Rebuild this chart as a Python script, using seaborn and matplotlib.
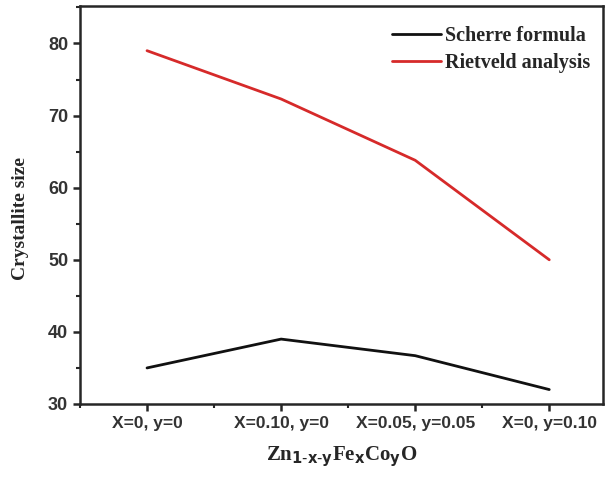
import matplotlib
matplotlib.use('Agg')
import pandas as pd
import seaborn as sns
import matplotlib.pyplot as plt
from matplotlib.ticker import MultipleLocator

categories = ['X=0, y=0', 'X=0.10, y=0', 'X=0.05, y=0.05', 'X=0, y=0.10']
scherre = [35.0, 39.0, 36.7, 32.0]
rietveld = [79.0, 72.3, 63.8, 50.0]

df = pd.DataFrame({
    'pos': list(range(len(categories))) * 2,
    'size': scherre + rietveld,
    'method': ['Scherre formula'] * 4 + ['Rietveld analysis'] * 4,
})

sns.set_style('ticks')
fig = plt.figure(figsize=(6.13, 4.83), dpi=100)
ax = fig.add_axes([0.1305, 0.1636, 0.853, 0.824])

sns.lineplot(data=df, x='pos', y='size', hue='method',
             palette={'Scherre formula': '#111111', 'Rietveld analysis': '#d62a2a'},
             linewidth=2.0, ax=ax)

ax.set_xlim(-0.5, 3.4)
ax.set_ylim(30, 85.2)
ax.set_xticks(range(len(categories)))
ax.set_xticklabels(categories, family='Liberation Sans', fontweight='bold', fontsize=12.5)
ax.xaxis.set_minor_locator(MultipleLocator(0.5))
ax.set_yticks([30, 40, 50, 60, 70, 80])
ax.yaxis.set_minor_locator(MultipleLocator(5))
for lab in ax.get_yticklabels():
    lab.set_family('Liberation Sans')
    lab.set_fontweight('bold')
    lab.set_fontsize(13)
    lab.set_color('#333333')
for lab in ax.get_xticklabels():
    lab.set_color('#333333')

ax.tick_params(which='major', direction='out', length=5, width=1.8)
ax.tick_params(which='minor', direction='out', length=3, width=1.5)
for s in ax.spines.values():
    s.set_linewidth(1.8)
    s.set_visible(True)

ax.set_ylabel('Crystallite size', family='Liberation Serif', fontweight='bold', fontsize=14)
ax.yaxis.set_label_coords(-0.098, 0.467)
ax.set_xlabel(r'Zn$_{\mathbf{1\text{-}x\text{-}y}}$Fe$_{\mathbf{x}}$Co$_{\mathbf{y}}$O',
              family='Liberation Serif', fontweight='bold', fontsize=15, labelpad=10)

leg = ax.legend(loc='upper right', frameon=False,
                prop={'family': 'Liberation Serif', 'weight': 'bold', 'size': 14.5},
                handlelength=2.4, handletextpad=0.2, labelspacing=0.35,
                bbox_to_anchor=(1.01, 0.995))

plt.savefig('out.png', dpi=100)
